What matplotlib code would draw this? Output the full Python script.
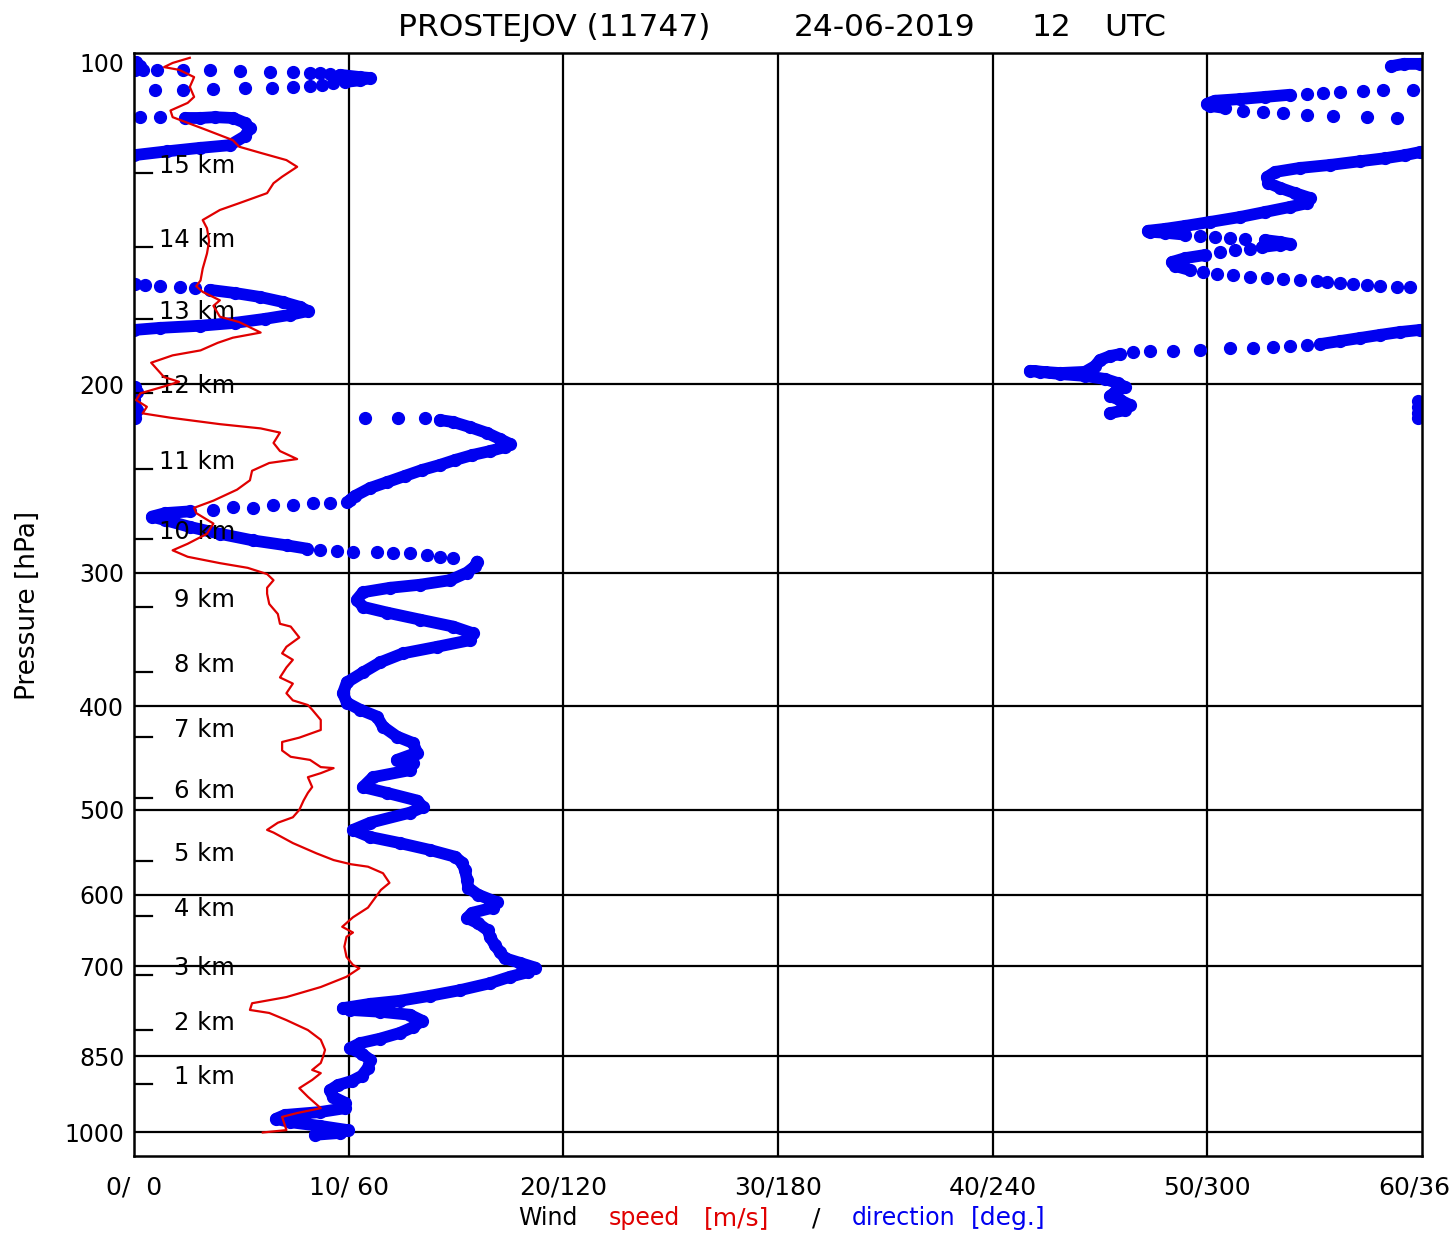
import numpy as np
import matplotlib
matplotlib.use("Agg")
import matplotlib.pyplot as plt
import matplotlib.transforms as mtransforms
from matplotlib.ticker import NullLocator

## sounding Prostejov 24-06-2019 12 UTC, wind speed / direction vs pressure

# wind speed (hPa, m/s), surface upwards
speed_profile = [
    (1001, 6.0), (996, 7.1), (968, 6.9), (960, 7.6), (950, 8.7), (927, 8.1), (910, 7.7),
    (894, 8.3), (881, 8.7), (875, 8.3), (862, 8.7), (851, 8.8), (838, 8.9), (820, 8.7),
    (803, 8.1), (786, 7.1), (774, 6.3), (769, 5.4), (758, 5.5), (748, 7.1), (732, 8.7),
    (716, 9.9), (703, 10.5), (698, 10.2), (686, 9.9), (671, 9.8), (657, 9.9), (651, 10.2),
    (643, 9.7), (630, 10.2), (617, 10.9), (594, 11.5), (585, 11.9), (573, 11.6), (565, 10.9),
    (562, 10.1), (557, 9.3), (549, 8.5), (537, 7.4), (525, 6.5), (522, 6.2), (514, 6.7),
    (508, 7.4), (500, 7.7), (490, 7.9), (482, 8.1), (476, 8.3), (466, 8.1), (462, 8.7),
    (457, 9.3), (456, 8.7), (449, 8.2), (446, 7.3), (440, 6.9), (432, 6.9), (428, 7.7),
    (421, 8.7), (412, 8.7), (403, 8.3), (399, 8.1), (395, 7.4), (389, 7.1), (381, 7.4),
    (376, 6.8), (368, 7.1), (362, 7.4), (357, 6.9), (352, 7.1), (345, 7.7), (337, 7.3),
    (335, 6.8), (328, 6.7), (321, 6.3), (314, 6.2), (310, 6.2), (305, 6.5), (301, 6.2),
    (297, 5.3), (294, 4.0), (290, 2.5), (286, 1.8), (282, 2.5), (276, 3.4), (270, 3.7),
    (264, 2.9), (261, 2.8), (257, 3.7), (251, 4.8), (246, 5.4), (241, 5.5), (237, 6.3),
    (235, 7.6), (231, 6.8), (227, 6.5), (222, 6.8), (220, 5.9), (218, 4.0), (215, 1.7),
    (213, 0.4), (210, 0.6), (207, 0.1), (204, 0.3), (201, 1.4), (199, 2.1), (197, 1.4),
    (194, 1.1), (191, 0.8), (188, 1.8), (186, 3.1), (183, 3.9), (181, 4.6), (179, 5.9),
    (175, 4.9), (173, 4.0), (169, 3.7), (167, 4.0), (164, 3.2), (162, 2.9), (160, 3.1),
    (156, 3.2), (151, 3.4), (147, 3.5), (143, 3.4), (140.5, 3.2), (137.5, 4.0), (135.5, 4.9),
    (132.6, 6.2), (129.8, 6.5), (128, 6.9), (125.3, 7.6), (123.5, 7.1), (121.6, 5.9),
    (120, 4.9), (118.3, 4.6), (115.8, 3.4), (114, 2.5), (112.6, 1.8), (111, 1.7),
    (109.2, 2.5), (107.8, 2.8), (105.5, 2.6), (103.3, 2.8), (101.7, 2.1), (101.1, 1.4),
    (100.2, 1.8), (99.1, 2.6),
]

# wind direction (hPa, deg): densely sampled stretches of the trace
dir_low = [
    (1006, 50.6), (1002, 57.6), (996, 59.8), (987, 52.0), (979, 43.6), (972, 39.7), (964, 42.2),
    (958, 52.0), (950, 59.0), (939, 59.0), (927, 55.6), (914, 54.8), (904, 57.0), (896, 60.9),
    (886, 63.7), (871, 65.4), (856, 66.0), (845, 63.7), (835, 60.4), (826, 63.2), (818, 68.8),
    (808, 74.3), (798, 78.0), (787, 80.5), (777, 77.1), (772, 68.8), (769, 60.4), (766, 58.4),
    (759, 66.0), (754, 74.3), (746, 82.7), (737, 91.1), (726, 99.5), (716, 105.1), (709, 110.1),
    (702, 112.1), (695, 107.9), (688, 103.7), (679, 102.3), (669, 100.9), (657, 99.5),
    (648, 98.9), (638, 96.1), (631, 93.1), (624, 94.5), (617, 100.3), (610, 101.5), (600, 96.1),
    (591, 93.4), (581, 93.1), (569, 92.5), (560, 91.7), (553, 89.7), (545, 82.7), (537, 74.3),
    (530, 66.0), (522, 61.2), (514, 66.0), (503, 77.1), (497, 80.8), (490, 79.1), (482, 70.7),
    (476, 64.0), (466, 66.8), (459, 77.1), (452, 78.0), (449, 73.5), (442, 79.1), (433, 78.0),
    (427, 73.5), (418, 69.6), (409, 67.9), (403, 63.2), (397, 59.5), (389, 58.4), (380, 59.5),
    (372, 64.0), (364, 68.8), (357, 75.2), (352, 84.7), (347, 93.9), (342, 94.8), (337, 89.2),
    (332, 79.9), (327, 70.7), (323, 64.0), (318, 62.3), (313, 64.0), (310, 71.6), (308, 79.9),
    (305, 88.3), (300, 93.1), (296, 95.3), (293, 95.9),
]
dir_285 = [(285, 48.4), (283, 42.8), (280, 33.3), (276, 24.0), (272, 15.7), (268, 8.7),
           (266, 5.0), (264, 8.7), (263, 15.7)]
dir_257 = [(256.6, 60.4), (254.4, 61.8), (250.1, 66.0), (247.0, 70.7), (243.7, 75.7),
           (240.6, 80.5), (238.0, 85.5), (235.5, 89.7), (233.0, 94.5), (231.0, 99.5),
           (229.0, 103.7), (227.5, 105.1), (225.1, 102.3), (222.2, 98.7), (219.4, 93.9),
           (217.0, 89.2), (216.1, 85.5)]
dir_210_west = [(215.1, 0.3), (211.5, 0.8), (207.0, 0.0), (203.5, 0.8), (201.3, 0.3)]
dir_205 = [(212.9, 272.8), (211.5, 277.0), (209.2, 278.4), (207.0, 275.6), (205.2, 272.8),
           (203.5, 274.2), (201.3, 277.0), (199.6, 275.0), (197.8, 271.4), (196.5, 265.8),
           (195.7, 258.8), (194.8, 253.2), (194.4, 250.4), (195.3, 258.8), (194.8, 265.8),
           (192.4, 268.6), (189.9, 270.0), (188.3, 272.8), (187.5, 275.6)]
dir_181 = [(183.5, 331.5), (182.3, 337.1), (181.1, 342.7), (179.9, 348.3), (178.8, 353.8),
           (178.0, 359.4)]
dir_172 = [(178.0, 0.0), (177.2, 7.3), (176.4, 18.4), (175.3, 28.2), (173.8, 36.6),
           (172.3, 43.6), (170.9, 48.6), (169.4, 46.4), (167.6, 41.6), (165.8, 35.2),
           (164.4, 28.2), (163.3, 21.2)]
dir_154 = [(156.5, 295.2), (155.1, 291.0), (153.8, 290.1), (152.5, 293.8), (151.5, 299.3)]
dir_148 = [(148.9, 315.3), (148.2, 320.3), (147.9, 323.1), (147.3, 320.3), (146.7, 316.1)]
dir_133 = [(145.0, 293.8), (144.4, 288.2), (144.1, 284.0), (143.8, 283.4), (143.2, 288.2),
           (142.3, 293.8), (141.1, 300.7), (139.6, 309.1), (138.1, 316.1), (136.6, 323.1),
           (135.5, 327.9), (134.0, 328.7), (132.6, 324.5), (131.1, 320.3), (129.7, 317.0),
           (128.1, 316.7), (126.7, 318.9), (125.6, 325.9), (124.8, 334.3), (123.8, 342.7),
           (123.0, 349.7), (122.2, 355.2), (121.4, 359.4)]
dir_117 = [(122.2, 0.0), (121.2, 9.2), (120.3, 18.4), (119.6, 26.8), (117.3, 31.0),
           (115.3, 32.4), (114.0, 31.0), (112.8, 27.7), (112.6, 22.6), (112.8, 18.4),
           (112.8, 14.3)]
dir_109 = [(110.4, 304.9), (109.9, 300.7), (109.4, 299.9), (108.7, 302.1), (108.3, 309.1),
           (107.8, 316.1), (107.3, 323.1)]
dir_104 = [(104.4, 59.0), (104.0, 63.2), (103.5, 66.0), (103.3, 63.2), (102.8, 57.6)]
dir_101_west = [(101.7, 0.3), (100.9, 1.7), (100.0, 0.6)]
dir_101_east = [(100.9, 351.4), (100.4, 354.9), (100.4, 359.4)]

dir_bands = [dir_low, dir_285, dir_257, dir_210_west, dir_205, dir_181, dir_172, dir_154,
             dir_148, dir_133, dir_117, dir_109, dir_104, dir_101_west, dir_101_east]

# single readings where the direction turns fast (hPa, deg)
dir_dots = [
    (290.7, 89.2), (290.1, 85.5), (288.9, 81.9), (287.6, 77.1), (287.6, 72.4), (287.2, 67.9),
    (287.2, 61.2), (286.4, 56.7), (285.8, 52.0),
    (262.2, 22.1), (260.5, 27.7), (261.0, 33.3), (259.4, 38.9), (259.4, 44.4), (258.3, 50.0),
    (258.3, 54.8), (257.7, 59.5),
    (215.1, 81.3), (215.1, 73.8), (215.1, 64.6),
    (215.1, 358.9), (212.9, 358.9), (210.1, 358.9), (207.4, 358.9),
    (186.7, 279.2), (186.3, 284.0), (186.3, 290.4), (185.9, 297.9), (185.0, 306.3),
    (185.0, 312.8), (184.6, 318.4), (184.2, 323.1), (183.9, 327.9),
    (162.7, 17.0), (162.3, 12.9), (162.0, 7.3), (161.6, 3.1), (161.3, 0.3),
    (162.3, 356.6), (162.3, 353.0), (162.0, 348.3), (161.6, 344.6), (161.3, 340.7),
    (160.9, 337.1), (160.6, 333.4), (160.2, 330.6), (159.9, 325.9), (159.5, 321.1),
    (159.2, 316.7), (158.8, 311.9), (158.2, 307.2), (157.8, 302.7), (157.2, 298.8),
    (150.5, 303.5), (149.9, 307.7), (149.6, 311.9),
    (146.3, 310.5), (146.0, 306.3), (145.7, 302.1), (145.4, 297.9),
    (112.6, 7.3), (112.6, 1.7),
    (112.8, 353.0), (112.6, 344.6), (112.3, 335.1), (112.1, 327.9), (111.6, 321.1),
    (111.4, 315.6), (111.1, 310.0),
    (107.1, 327.9), (106.9, 332.3), (106.7, 337.1), (106.4, 343.5), (106.3, 349.1),
    (106.3, 357.5),
    (106.2, 5.9), (106.2, 13.7), (106.0, 22.1), (105.7, 31.0), (105.7, 38.6), (105.5, 44.4),
    (105.3, 49.2), (105.1, 52.5), (104.7, 55.6),
    (102.6, 54.8), (102.4, 52.0), (102.4, 49.2), (102.1, 44.4), (102.1, 38.0), (101.9, 29.6),
    (101.7, 21.2), (101.7, 13.7), (101.7, 6.4), (101.7, 2.5),
]

# height marks (km) and the pressure where they sit
km_levels = [1, 2, 3, 4, 5, 6, 7, 8, 9, 10, 11, 12, 13, 14, 15]
km_pressure = [902, 803, 713, 628, 558, 487, 427, 372, 323, 279, 240, 204, 174, 149, 127]

p_ticks = [100, 200, 300, 400, 500, 600, 700, 850, 1000]
p_grid = [200, 300, 400, 500, 600, 700, 850, 1000]
speed_ticks = [0, 10, 20, 30, 40, 50, 60]
dir_ticks = [0, 60, 120, 180, 240, 300, 360]

RED = "#e00000"
BLUE = "#0000f0"
W, H = 1449, 1236

fig = plt.figure(figsize=(W / 100, H / 100), dpi=100)
ax = fig.add_axes([134 / W, 80 / H, 1288 / W, 1103 / H])
ax.set_yscale("log")
ax.set_ylim(1053, 98.08)
ax.set_xlim(0, 360)

ax.set_yticks(p_ticks)
ax.set_yticklabels([str(p) for p in p_ticks])
ax.yaxis.set_minor_locator(NullLocator())
ax.set_xticks(dir_ticks)
ax.set_xticklabels([f"{s}/{d:3d}" for s, d in zip(speed_ticks, dir_ticks)])
ax.tick_params(axis="y", length=0, pad=7, labelsize=17)
ax.tick_params(axis="x", length=0, pad=14, labelsize=18)
for sp in ax.spines.values():
    sp.set_linewidth(1.8)

for p in p_grid:
    ax.axhline(p, color="k", lw=1.6, zorder=1)
for d in dir_ticks[1:-1]:
    ax.axvline(d, color="k", lw=1.6, zorder=1)

# direction trace
for band in dir_bands:
    b = np.array(band)
    ax.plot(b[:, 1], b[:, 0], color=BLUE, lw=8.5, marker="o", ms=8.5,
            solid_capstyle="round", solid_joinstyle="round", zorder=2)
dots = np.array(dir_dots)
ax.plot(dots[:, 1], dots[:, 0], "o", color=BLUE, ms=8.5, ls="none", zorder=2)

# height marks
trans = mtransforms.blended_transform_factory(ax.transAxes, ax.transData)
for k, p in zip(km_levels, km_pressure):
    ax.plot([0, 0.014], [p, p], color="k", lw=1.6, transform=trans, zorder=3)
    ax.text(0.0784, p, f"{k} km", transform=trans, ha="right", va="baseline",
            fontsize=17.5, zorder=3)

# speed on its own x scale 0-60 m/s
ax2 = ax.twiny()
ax2.set_xlim(0, 60)
ax2.set_axis_off()
sp_arr = np.array(speed_profile)
ax2.plot(sp_arr[:, 1], sp_arr[:, 0], color=RED, lw=1.6, zorder=4)

# texts
title_y = 1 - 28 / H
fig.text(554 / W, title_y, "PROSTEJOV (11747)", fontsize=22.5, ha="center", va="center")
fig.text(885 / W, title_y, "24-06-2019", fontsize=22.5, ha="center", va="center")
fig.text(1051 / W, title_y, "12", fontsize=22.5, ha="center", va="center")
fig.text(1135 / W, title_y, "UTC", fontsize=22.5, ha="center", va="center")

fig.text(28 / W, 1 - 605 / H, "Pressure [hPa]", rotation=90, fontsize=19,
         ha="center", va="center")

xl_y = 1 - 1218 / H
fig.text(548 / W, xl_y, "Wind", fontsize=17, ha="center", va="center", color="k")
fig.text(644 / W, xl_y, "speed", fontsize=17, ha="center", va="center", color=RED)
fig.text(737 / W, xl_y, "[m/s]", fontsize=18, ha="center", va="center", color=RED)
fig.text(816 / W, xl_y, "/", fontsize=18, ha="center", va="center", color="k")
fig.text(904 / W, xl_y, "direction", fontsize=17, ha="center", va="center", color=BLUE)
fig.text(1008 / W, xl_y, "[deg.]", fontsize=18, ha="center", va="center", color=BLUE)

fig.savefig("out.png", dpi=100)
